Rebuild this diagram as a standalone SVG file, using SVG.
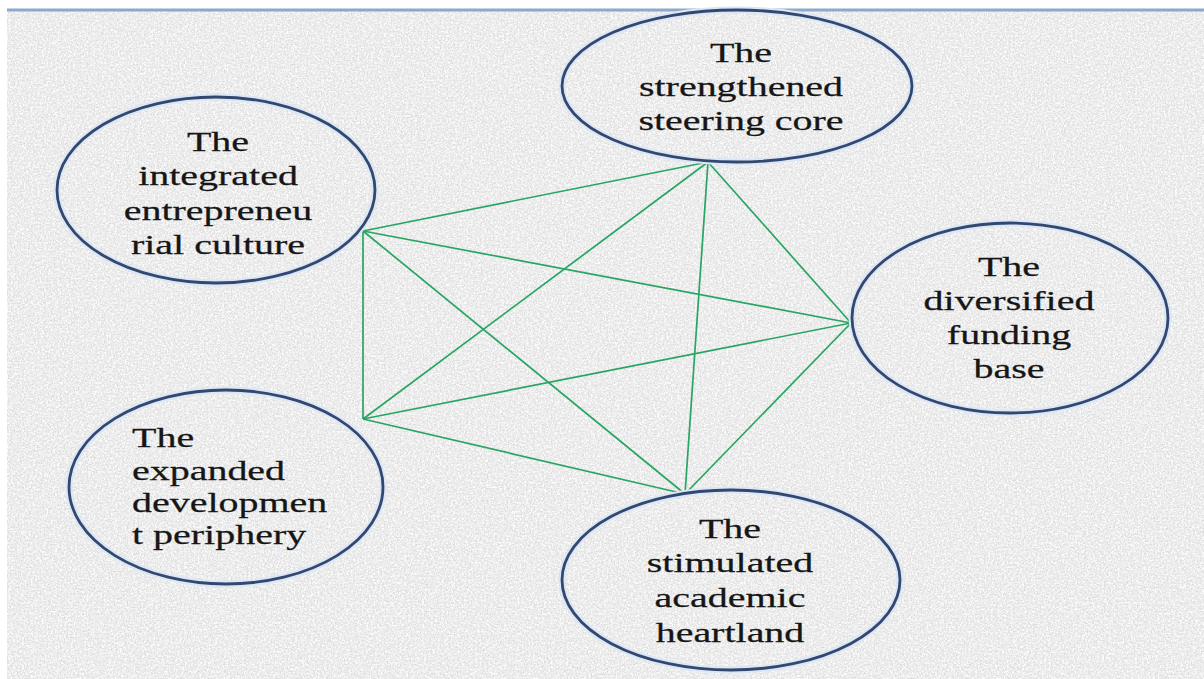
<svg xmlns="http://www.w3.org/2000/svg" width="1204" height="679" viewBox="0 0 1204 679">
<defs>
<filter id="grainDark" x="0" y="0" width="100%" height="100%">
<feTurbulence type="fractalNoise" baseFrequency="0.7" numOctaves="2" seed="7" result="n"/>
<feColorMatrix in="n" type="matrix" values="0 0 0 0 0.62  0 0 0 0 0.62  0 0 0 0 0.63  0 0 0 3.2 -1.45"/>
</filter>
<filter id="grainLight" x="0" y="0" width="100%" height="100%">
<feTurbulence type="fractalNoise" baseFrequency="0.45" numOctaves="2" seed="21" result="n"/>
<feColorMatrix in="n" type="matrix" values="0 0 0 0 1  0 0 0 0 1  0 0 0 0 1  0 0 0 3.4 -1.35"/>
</filter>
</defs>
<style>
.bg{fill:#ebebeb}
.halo{fill:none;stroke:#dbe7f5;stroke-width:7}
.ring{fill:none;stroke:#34476f;stroke-width:2.8}
.lbl{font-family:"Liberation Serif","Times New Roman",serif;font-size:27px;fill:#161616;stroke:#161616;stroke-width:0.25}
.mid{text-anchor:middle}
.edge{stroke:#28a563;stroke-width:1.7;fill:none}
</style>
<rect x="0" y="0" width="1204" height="679" fill="#ffffff"/>
<rect class="bg" x="7" y="10" width="1197" height="669"/>
<rect x="7" y="10" width="1197" height="669" fill="#ffffff" filter="url(#grainLight)" opacity="0.9"/>
<rect x="7" y="10" width="1197" height="669" fill="#ffffff" filter="url(#grainDark)" opacity="0.6"/>
<rect x="7" y="8.5" width="1197" height="3" fill="#8ea7ca"/>
<g id="connectors">
<line class="edge" x1="363" y1="231" x2="708" y2="162"/>
<line class="edge" x1="363" y1="231" x2="851" y2="323"/>
<line class="edge" x1="363" y1="231" x2="363" y2="419"/>
<line class="edge" x1="363" y1="231" x2="685" y2="494"/>
<line class="edge" x1="708" y1="162" x2="851" y2="323"/>
<line class="edge" x1="708" y1="162" x2="363" y2="419"/>
<line class="edge" x1="708" y1="162" x2="685" y2="494"/>
<line class="edge" x1="851" y1="323" x2="363" y2="419"/>
<line class="edge" x1="851" y1="323" x2="685" y2="494"/>
<line class="edge" x1="363" y1="419" x2="685" y2="494"/>
</g>
<g id="node-culture">
<ellipse class="halo" cx="216" cy="190" rx="159" ry="93"/>
<ellipse class="ring" cx="216" cy="190" rx="159" ry="93"/>
<text class="lbl mid" transform="translate(218,0) scale(1.48,1)"><tspan x="0" y="151">The</tspan><tspan x="0" y="185">integrated</tspan><tspan x="0" y="220">entrepreneu</tspan><tspan x="0" y="254">rial culture</tspan></text>
</g>
<g id="node-core">
<ellipse class="halo" cx="737" cy="86" rx="175" ry="76"/>
<ellipse class="ring" cx="737" cy="86" rx="175" ry="76"/>
<text class="lbl mid" transform="translate(741,0) scale(1.48,1)"><tspan x="0" y="62">The</tspan><tspan x="0" y="96">strengthened</tspan><tspan x="0" y="130">steering core</tspan></text>
</g>
<g id="node-funding">
<ellipse class="halo" cx="1010" cy="318" rx="158" ry="95"/>
<ellipse class="ring" cx="1010" cy="318" rx="158" ry="95"/>
<text class="lbl mid" transform="translate(1009,0) scale(1.48,1)"><tspan x="0" y="276">The</tspan><tspan x="0" y="310">diversified</tspan><tspan x="0" y="344">funding</tspan><tspan x="0" y="378">base</tspan></text>
</g>
<g id="node-periphery">
<ellipse class="halo" cx="226" cy="487" rx="157" ry="97"/>
<ellipse class="ring" cx="226" cy="487" rx="157" ry="97"/>
<text class="lbl" transform="translate(132,0) scale(1.48,1)"><tspan x="0" y="447">The</tspan><tspan x="0" y="480">expanded</tspan><tspan x="0" y="512">developmen</tspan><tspan x="0" y="544">t periphery</tspan></text>
</g>
<g id="node-heartland">
<ellipse class="halo" cx="731" cy="580" rx="169" ry="90"/>
<ellipse class="ring" cx="731" cy="580" rx="169" ry="90"/>
<text class="lbl mid" transform="translate(730,0) scale(1.48,1)"><tspan x="0" y="538">The</tspan><tspan x="0" y="572">stimulated</tspan><tspan x="0" y="607">academic</tspan><tspan x="0" y="642">heartland</tspan></text>
</g>
</svg>
